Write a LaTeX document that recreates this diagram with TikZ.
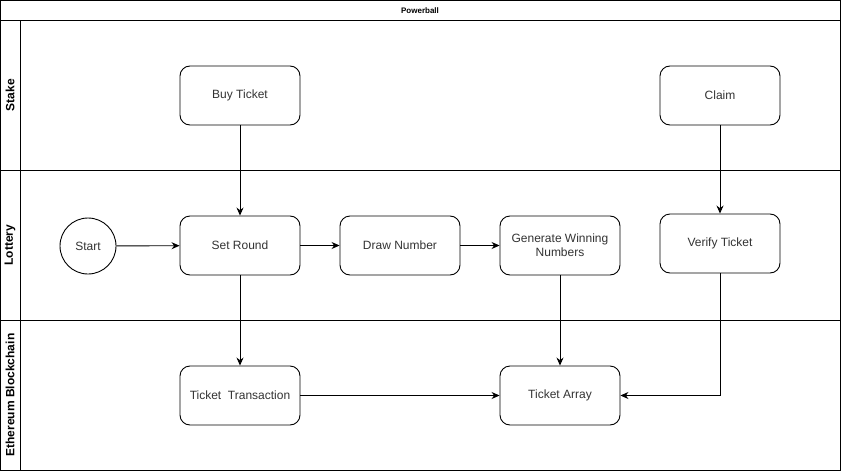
\documentclass[tikz,border=0pt]{standalone}
\usepackage{fontspec}
\setmainfont{Liberation Sans}
\usetikzlibrary{arrows.meta}
\begin{document}
\begin{tikzpicture}[x=1pt,y=-1pt,
  box/.style={draw,line width=0.9pt,rounded corners=10pt,minimum width=120pt,minimum height=59pt,align=center,font=\fontsize{12}{14}\selectfont,text=black!80},
  circ/.style={draw,line width=0.9pt,circle,minimum size=56pt,inner sep=0pt,font=\fontsize{12}{14}\selectfont,text=black!80},
  arr/.style={line width=0.9pt,-{Stealth[length=8pt,width=7pt]}},
  lane/.style={line width=0.9pt},
  lanelabel/.style={rotate=90,font=\bfseries\fontsize{12}{14}\selectfont}]
\useasboundingbox (0,0) rectangle (841,471);
\fill[white] (0,0) rectangle (841,471);
% swimlanes
\draw[lane] (0.5,0.5) rectangle (840,470);
\draw[lane] (0.5,20) -- (840,20);
\draw[lane] (0.5,170) -- (840,170);
\draw[lane] (0.5,320) -- (840,320);
\draw[lane] (20,20) -- (20,470);
\node[font=\bfseries\fontsize{8}{10}\selectfont] (title) at (420,11) {Powerball};
\node[lanelabel] (l1) at (10,95) {Stake};
\node[lanelabel] (l2) at (10,245) {Lottery};
\node[lanelabel] (l3) at (10,395) {Ethereum Blockchain};
% nodes
\node[box] (buy) at (240,95.5) {Buy Ticket};
\node[box] (claim) at (720,95.5) {Claim};
\node[circ] (start) at (88,246) {Start};
\node[box] (set) at (240,245.5) {Set Round};
\node[box] (draw) at (400,245.5) {Draw Number};
\node[box] (gen) at (560,245.5) {Generate Winning\\Numbers};
\node[box] (ver) at (720,243.5) {Verify Ticket};
\node[box] (tx) at (240,395.5) {Ticket\ \ Transaction};
\node[box] (ta) at (560,395.5) {Ticket Array};
% connectors
\draw[arr] (buy) -- (set);
\draw[arr] (claim) -- (ver);
\draw[arr] (start) -- (set);
\draw[arr] (set) -- (draw);
\draw[arr] (draw) -- (gen);
\draw[arr] (set) -- (tx);
\draw[arr] (gen) -- (ta);
\draw[arr] (tx) -- (ta);
\draw[arr] (ver.south) |- (ta.east);
\end{tikzpicture}
\end{document}
